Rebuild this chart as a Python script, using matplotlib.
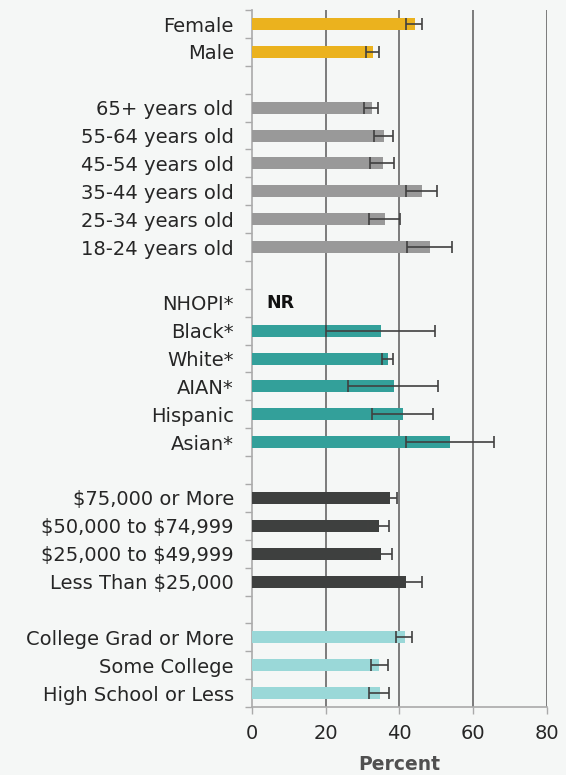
import matplotlib
matplotlib.use("Agg")
import matplotlib.pyplot as plt
import numpy as np

categories = ["Female", "Male", "",
              "65+ years old", "55-64 years old", "45-54 years old", "35-44 years old", "25-34 years old", "18-24 years old", "",
              "NHOPI*", "Black*", "White*", "AIAN*", "Hispanic", "Asian*", "",
              "$75,000 or More", "$50,000 to $74,999", "$25,000 to $49,999", "Less Than $25,000", "",
              "College Grad or More", "Some College", "High School or Less"]

values = [44.2, 32.8, None,
          32.5, 35.8, 35.5, 46.1, 36.1, 48.3, None,
          None, 35.0, 36.9, 38.5, 40.9, 53.7, None,
          37.4, 34.4, 35.0, 41.8, None,
          41.5, 34.4, 34.7]
lower = [41.9, 30.9, None,
         30.4, 33.2, 32.1, 41.9, 31.9, 42.0, None,
         None, 20.1, 35.4, 26.2, 32.7, 41.9, None,
         35.4, 31.5, 32.0, 37.4, None,
         39.2, 32.2, 31.9]
upper = [46.1, 34.5, None,
         34.3, 38.3, 38.6, 50.3, 40.2, 54.2, None,
         None, 49.7, 38.3, 50.6, 49.2, 65.7, None,
         39.4, 37.3, 38.0, 46.2, None,
         43.5, 36.8, 37.2]
groups = ["sex", "sex", None,
          "age", "age", "age", "age", "age", "age", None,
          "race", "race", "race", "race", "race", "race", None,
          "income", "income", "income", "income", None,
          "edu", "edu", "edu"]
group_colors = {"sex": "#EBB21E", "age": "#999999", "race": "#33A09A",
                "income": "#3E403F", "edu": "#9AD8D8"}
not_reported = ["NHOPI*"]
xticks = [0, 20, 40, 60, 80]

plt.rcParams['font.family'] = ['DejaVu Sans']
plt.rcParams['text.parse_math'] = False
bg = "#F5F7F6"
fig = plt.figure(figsize=(5.66, 7.75), dpi=100, facecolor=bg)
ax = fig.add_axes([0.445, 0.0877, 0.521, 0.8993])
ax.set_facecolor(bg)

n = len(categories)
y = np.arange(n)
for i in range(n):
    v = values[i]
    if v is None:
        continue
    ax.barh(y[i], v, height=0.43, color=group_colors[groups[i]], zorder=3)
    ax.errorbar(v, y[i], xerr=[[v - lower[i]], [upper[i] - v]], fmt='none',
                ecolor="#404040", elinewidth=1.2, capsize=4, capthick=1.2, zorder=4)

for i, c in enumerate(categories):
    if c in not_reported:
        ax.text(4, y[i], "NR", fontsize=12.5, fontweight='bold', va='center', ha='left',
                color="#111111", zorder=5)

ax.set_xlim(0, 80)
ax.set_ylim(n - 0.5, -0.5)
ax.set_xticks(xticks)
ax.set_xticklabels([str(t) for t in xticks], fontsize=14, color="#262626")
ax.set_yticks(y)
ax.set_yticklabels(categories, fontsize=14, color="#262626")
ax.tick_params(axis='y', which='major', length=0, pad=13)
ax.set_yticks(np.arange(-0.5, n, 1.0), minor=True)
ax.tick_params(axis='y', which='minor', length=5, color="#AAAAAA", width=1)
ax.tick_params(axis='x', which='major', length=5, color="#AAAAAA", width=1, pad=7)

for t in xticks[1:]:
    ax.axvline(t, color="#5A5A5A", lw=1.1, zorder=1)

for s in ["top", "right"]:
    ax.spines[s].set_visible(False)
for s in ["left", "bottom"]:
    ax.spines[s].set_color("#AAAAAA")
    ax.spines[s].set_linewidth(1.2)

ax.set_xlabel("Percent", fontsize=13.5, fontweight='bold', color="#505050", labelpad=9)

fig.savefig("out.png", dpi=100, facecolor=bg)
